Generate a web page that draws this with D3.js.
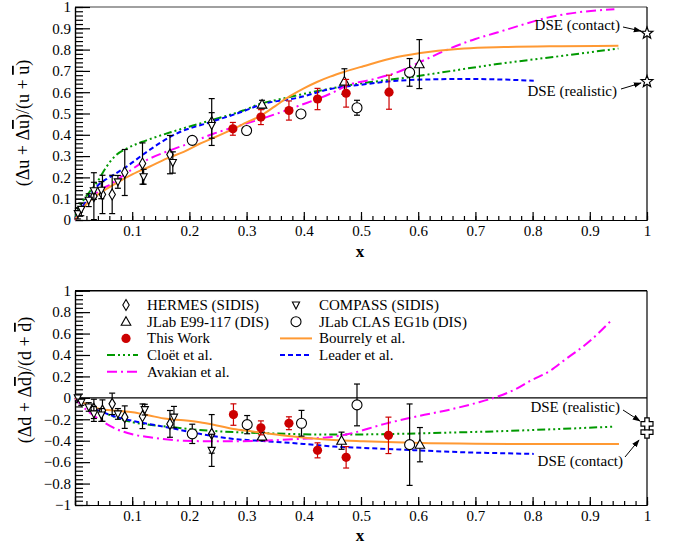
<!DOCTYPE html>
<html>
<head>
<meta charset="utf-8">
<script src="https://cdn.jsdelivr.net/npm/d3@7"></script>
<style>
  body { margin: 0; background: #fff; }
  svg, svg text { font-family: "Liberation Serif", "Times New Roman", serif; }
  .ol { text-decoration: overline; }
</style>
</head>
<body>
<svg id="chart" width="673" height="545"></svg>
<script>
// ---- data: [x, y, err] ----
// upper panel: (Δu + Δū)/(u + ū)
const hermesU = [[0.033,0.112,0.11],[0.048,0.12,0.09],[0.065,0.12,0.09],[0.087,0.223,0.108],
  [0.118,0.265,0.097],[0.166,0.307,0.09],[0.239,0.46,0.11]];
const compassU = [[0.005,0.03,0.025],[0.011,0.05,0.03],[0.024,0.093,0.03],[0.033,0.137,0.04],
  [0.046,0.14,0.04],[0.075,0.179,0.03],[0.12,0.203,0.035],[0.171,0.27,0.05],[0.239,0.444,0.06]];
const e99U = [[0.327,0.542,0.02],[0.471,0.65,0.06],[0.602,0.732,0.115]];
const clasU = [[0.205,0.374,0.0],[0.300,0.42,0.0],[0.395,0.498,0.0],[0.493,0.527,0.035],[0.585,0.693,0.065]];
const thisWorkU = [[0.276,0.428,0.03],[0.325,0.483,0.035],[0.374,0.514,0.045],[0.424,0.568,0.05],
  [0.474,0.595,0.065],[0.549,0.60,0.08]];

// lower panel: (Δd + Δd̄)/(d + d̄)
const hermesD = [[0.033,-0.103,0.09],[0.048,-0.119,0.1],[0.065,-0.056,0.1],[0.087,-0.18,0.105],
  [0.118,-0.172,0.115],[0.166,-0.243,0.125],[0.239,-0.336,0.18]];
const compassD = [[0.005,0.0,0.03],[0.011,-0.04,0.03],[0.024,-0.085,0.04],[0.033,-0.15,0.07],
  [0.046,-0.16,0.06],[0.075,-0.15,0.05],[0.122,-0.11,0.05],[0.173,-0.18,0.1],[0.239,-0.49,0.15]];
const e99D = [[0.327,-0.36,0.04],[0.466,-0.40,0.08],[0.603,-0.437,0.16]];
const clasD = [[0.205,-0.336,0.09],[0.301,-0.25,0.085],[0.396,-0.237,0.12],[0.493,-0.066,0.195],[0.585,-0.437,0.38]];
const thisWorkD = [[0.277,-0.156,0.1],[0.325,-0.28,0.065],[0.374,-0.237,0.06],[0.424,-0.49,0.07],
  [0.474,-0.555,0.1],[0.548,-0.35,0.17]];

// model curves [x, y]
const bourrelyU = [[0,0],[0.01,0.04],[0.02,0.075],[0.043,0.125],[0.07,0.17],[0.101,0.215],[0.13,0.25],
  [0.16,0.288],[0.19,0.32],[0.218,0.358],[0.25,0.395],[0.277,0.428],[0.3,0.458],[0.325,0.49],[0.35,0.535],
  [0.375,0.58],[0.4,0.618],[0.423,0.648],[0.446,0.673],[0.47,0.695],[0.504,0.722],[0.563,0.765],
  [0.621,0.79],[0.68,0.805],[0.75,0.812],[0.85,0.816],[0.95,0.818]];
const cloetU = [[0,0],[0.005,0.05],[0.014,0.09],[0.025,0.13],[0.037,0.171],[0.055,0.25],[0.07,0.3],
  [0.09,0.335],[0.125,0.374],[0.177,0.42],[0.236,0.467],[0.294,0.514],[0.323,0.545],[0.36,0.568],
  [0.393,0.588],[0.475,0.631],[0.592,0.673],[0.738,0.732],[0.85,0.77],[0.95,0.805]];
const leaderU = [[0,0],[0.005,0.03],[0.015,0.07],[0.03,0.13],[0.043,0.17],[0.06,0.2],[0.09,0.25],
  [0.125,0.319],[0.177,0.405],[0.236,0.459],[0.294,0.51],[0.323,0.54],[0.393,0.576],[0.446,0.615],
  [0.5,0.635],[0.563,0.654],[0.62,0.66],[0.68,0.662],[0.74,0.66],[0.802,0.654]];
const avakianU = [[0,0],[0.01,0.04],[0.025,0.09],[0.043,0.14],[0.06,0.164],[0.09,0.22],[0.119,0.272],
  [0.166,0.327],[0.2,0.36],[0.242,0.405],[0.29,0.445],[0.335,0.483],[0.39,0.535],[0.452,0.6],[0.475,0.631],
  [0.52,0.66],[0.563,0.693],[0.61,0.75],[0.651,0.80],[0.70,0.85],[0.738,0.88],[0.78,0.915],[0.826,0.95],
  [0.88,0.975],[0.943,0.99]];

const bourrelyD = [[0,0],[0.02,-0.06],[0.043,-0.103],[0.07,-0.12],[0.101,-0.134],[0.13,-0.165],
  [0.16,-0.196],[0.19,-0.21],[0.218,-0.228],[0.25,-0.26],[0.277,-0.29],[0.305,-0.31],[0.335,-0.33],
  [0.39,-0.365],[0.452,-0.393],[0.504,-0.405],[0.56,-0.415],[0.621,-0.424],[0.7,-0.428],[0.8,-0.43],[0.951,-0.43]];
const cloetD = [[0,0],[0.02,-0.06],[0.043,-0.119],[0.07,-0.18],[0.101,-0.228],[0.13,-0.25],[0.16,-0.268],
  [0.218,-0.3],[0.28,-0.32],[0.335,-0.33],[0.4,-0.34],[0.463,-0.343],[0.563,-0.336],[0.65,-0.325],
  [0.738,-0.312],[0.85,-0.29],[0.943,-0.268]];
const leaderD = [[0,0],[0.02,-0.06],[0.043,-0.12],[0.07,-0.175],[0.101,-0.215],[0.13,-0.245],[0.16,-0.274],
  [0.218,-0.336],[0.277,-0.383],[0.335,-0.405],[0.4,-0.43],[0.452,-0.455],[0.504,-0.467],[0.6,-0.49],
  [0.68,-0.508],[0.74,-0.516],[0.802,-0.523]];
const avakianD = [[0,0],[0.01,-0.06],[0.025,-0.134],[0.045,-0.21],[0.072,-0.29],[0.1,-0.34],[0.131,-0.368],
  [0.189,-0.40],[0.24,-0.405],[0.277,-0.405],[0.33,-0.4],[0.393,-0.383],[0.44,-0.37],[0.48,-0.335],
  [0.54,-0.245],[0.6,-0.17],[0.651,-0.115],[0.7,-0.05],[0.738,0.01],[0.77,0.08],[0.797,0.162],
  [0.83,0.25],[0.855,0.35],[0.9,0.53],[0.937,0.72]];

// DSE values at x = 1: [contact, realistic]
const dseU = [0.877, 0.65];
const dseD = [-0.32, -0.243];

const xTickLabels = ["", "0.1","0.2","0.3","0.4","0.5","0.6","0.7","0.8","0.9","1"];

// ---- styles ----
const FONT = "Liberation Serif";
const red = "#cc0000";
const curveStyles = {
  bourrely: {color: "#ff9933", dash: null},
  cloet:    {color: "#009900", dash: "8,3,2,3,2,3,2,3"},
  leader:   {color: "#0000ff", dash: "5,3"},
  avakian:  {color: "#ff00ff", dash: "10,4,2,4"}
};

const svg = d3.select("#chart").attr("font-family", FONT);
const xLeft = 75, xRight = 647;

// marker shape paths centred at 0,0
function markerPath(kind) {
  switch (kind) {
    case "diamond": return "M0,-5.5L3.2,0L0,5.5L-3.2,0Z";
    case "triUp":   return "M0,-5L4.8,3.6L-4.8,3.6Z";
    case "triDown": return "M0,4L3.6,-3L-3.6,-3Z";
    case "circle":  return d3.arc()({innerRadius: 0, outerRadius: 5, startAngle: 0, endAngle: 2 * Math.PI});
    case "dot":     return d3.arc()({innerRadius: 0, outerRadius: 4.6, startAngle: 0, endAngle: 2 * Math.PI});
    case "star": {
      let pts = [];
      for (let i = 0; i < 10; i++) {
        const r = i % 2 ? 2.6 : 6.2, a = -Math.PI / 2 + i * Math.PI / 5;
        pts.push([r * Math.cos(a), r * Math.sin(a)]);
      }
      return "M" + pts.join("L") + "Z";
    }
    case "cross": {
      const a = 2.2, b = 6;
      return `M${-a},${-b}H${a}V${-a}H${b}V${a}H${a}V${b}H${-a}V${a}H${-b}V${-a}H${-a}Z`;
    }
  }
}

function drawMarkers(g, data, x, y, kind, color) {
  const filled = kind === "dot";
  const errColor = filled ? color : "#000";
  // error bars
  data.filter(d => d[2] > 0).forEach(d => {
    const px = x(d[0]), y1 = y(d[1] + d[2]), y2 = y(d[1] - d[2]);
    g.append("line").attr("x1", px).attr("x2", px).attr("y1", y1).attr("y2", y2)
      .attr("stroke", errColor).attr("stroke-width", 1.2);
    [y1, y2].forEach(yy => g.append("line").attr("x1", px - 3).attr("x2", px + 3)
      .attr("y1", yy).attr("y2", yy).attr("stroke", errColor).attr("stroke-width", 1.2));
  });
  g.selectAll(null).data(data).enter().append("path")
    .attr("d", markerPath(kind))
    .attr("transform", d => `translate(${x(d[0])},${y(d[1])})`)
    .attr("fill", filled ? color : "#fff")
    .attr("stroke", filled ? "none" : "#000")
    .attr("stroke-width", 1.1);
}

function drawCurve(g, data, x, y, style) {
  const line = d3.line().x(d => x(d[0])).y(d => y(d[1])).curve(d3.curveMonotoneX);
  g.append("path").attr("d", line(data)).attr("fill", "none")
    .attr("stroke", style.color).attr("stroke-width", 2)
    .attr("stroke-dasharray", style.dash);
}

function arrow(g, x1, y1, x2, y2) {
  g.append("line").attr("x1", x1).attr("y1", y1).attr("x2", x2).attr("y2", y2)
    .attr("stroke", "#000").attr("stroke-width", 1).attr("marker-end", "url(#head)");
}

svg.append("defs").append("marker").attr("id", "head")
  .attr("viewBox", "0 0 10 10").attr("refX", 9).attr("refY", 5)
  .attr("markerWidth", 8).attr("markerHeight", 8).attr("orient", "auto")
  .append("path").attr("d", "M0,1.5L10,5L0,8.5Z").attr("fill", "#000");

// d3 axes set their own font attributes; replace them with ours
function styleAxis(a) {
  a.attr("font-family", FONT).attr("font-size", 15);
  a.selectAll("line,path").attr("stroke", "#000").attr("stroke-width", 1.2);
  a.selectAll("text").attr("fill", "#000");
}

function drawPanel(p) {
  const x = d3.scaleLinear().domain([0, 1]).range([xLeft, xRight]);
  const y = d3.scaleLinear().domain(p.yDomain).range([p.yBottom, p.yTop]);
  const g = svg.append("g");

  // frame
  g.append("line").attr("x1", xLeft).attr("x2", xRight).attr("y1", p.yTop).attr("y2", p.yTop)
    .attr("stroke", p.topColor).attr("stroke-width", 1.5);
  g.append("line").attr("x1", xRight).attr("x2", xRight).attr("y1", p.yTop).attr("y2", p.yBottom)
    .attr("stroke", "#000").attr("stroke-width", 1.2);
  if (p.zeroLine) {
    g.append("line").attr("x1", xLeft).attr("x2", xRight).attr("y1", y(0)).attr("y2", y(0))
      .attr("stroke", "#000").attr("stroke-width", 1.2);
  }

  // y axis: major + minor ticks pointing inward
  const yMajor = d3.range(p.yDomain[0], p.yDomain[1] + 1e-9, p.yStep);
  const yMinor = d3.range(p.yDomain[0], p.yDomain[1] + 1e-9, p.yStep / 5);
  g.append("g").attr("transform", `translate(${xLeft},0)`)
    .call(d3.axisLeft(y).tickValues(yMinor).tickSize(-8).tickSizeOuter(0).tickFormat(""))
    .call(styleAxis);
  g.append("g").attr("transform", `translate(${xLeft},0)`)
    .call(d3.axisLeft(y).tickValues(yMajor).tickSize(-15).tickSizeOuter(0).tickPadding(4)
      .tickFormat(d => d3.format("~g")(+d.toFixed(2))))
    .call(styleAxis);

  // x axis
  g.append("g").attr("transform", `translate(0,${p.yBottom})`)
    .call(d3.axisBottom(x).tickValues(d3.range(0, 1.0001, 0.02)).tickSize(-4).tickSizeOuter(0).tickFormat(""))
    .call(styleAxis);
  g.append("g").attr("transform", `translate(0,${p.yBottom})`)
    .call(d3.axisBottom(x).tickValues(d3.range(0, 1.0001, 0.1)).tickSize(-8).tickSizeOuter(0)
      .tickPadding(p.xPad).tickFormat((d, i) => xTickLabels[i]))
    .call(styleAxis);

  g.append("text").attr("x", 360).attr("y", p.xTitleY).attr("text-anchor", "middle")
    .attr("font-size", 17).attr("font-weight", "bold").text("x");

  // y title with overlines
  const t = g.append("text").attr("transform", `translate(${p.yTitleX},${p.yTitleY}) rotate(-90)`)
    .attr("text-anchor", "middle").attr("font-size", 18);
  p.yTitle.forEach(part => t.append("tspan").attr("class", part[1] ? "ol" : null).text(part[0]));

  // curves
  const cg = g.append("g");
  p.curves.forEach(c => drawCurve(cg, c[0], x, y, c[1]));

  // data
  const dg = g.append("g");
  drawMarkers(dg, p.hermes, x, y, "diamond");
  drawMarkers(dg, p.compass, x, y, "triDown");
  drawMarkers(dg, p.e99, x, y, "triUp");
  drawMarkers(dg, p.clas, x, y, "circle");
  drawMarkers(dg, p.thisWork, x, y, "dot", red);

  // DSE points at x = 1
  p.dse.forEach(v => dg.append("path").attr("d", markerPath(p.dseMarker))
    .attr("transform", `translate(${x(1)},${y(v)})`)
    .attr("fill", "#fff").attr("stroke", "#000").attr("stroke-width", 1.2));

  return {g, x, y};
}

// upper panel
const upperPanel = drawPanel({
  yDomain: [0, 1], yStep: 0.1, yTop: 7, yBottom: 220, topColor: "#808080",
  xPad: 5, xTitleY: 257, yTitleX: 29, yTitleY: 123,
  yTitle: [["(Δu + Δ", false], ["u", true], [")/(u + ", false], ["u", true], [")", false]],
  curves: [[cloetU, curveStyles.cloet], [leaderU, curveStyles.leader],
           [avakianU, curveStyles.avakian], [bourrelyU, curveStyles.bourrely]],
  hermes: hermesU, compass: compassU, e99: e99U, clas: clasU, thisWork: thisWorkU,
  dse: dseU, dseMarker: "star"
});

// lower panel
const lowerPanel = drawPanel({
  yDomain: [-1, 1], yStep: 0.2, yTop: 290.7, yBottom: 505, topColor: "#000", zeroLine: true,
  xPad: 5, xTitleY: 541, yTitleX: 31, yTitleY: 380,
  yTitle: [["(Δd + Δ", false], ["d", true], [")/(d + ", false], ["d", true], [")", false]],
  curves: [[cloetD, curveStyles.cloet], [leaderD, curveStyles.leader],
           [avakianD, curveStyles.avakian], [bourrelyD, curveStyles.bourrely]],
  hermes: hermesD, compass: compassD, e99: e99D, clas: clasD, thisWork: thisWorkD,
  dse: dseD, dseMarker: "cross"
});

// DSE annotations
const ann = svg.append("g").attr("font-size", 15).attr("text-anchor", "end");
ann.append("text").attr("x", 620).attr("y", 30).text("DSE (contact)");
arrow(ann, 623, 27, 641, 31);
ann.append("text").attr("x", 617).attr("y", 96).text("DSE (realistic)");
arrow(ann, 621, 89, 641, 83);
ann.append("text").attr("x", 620).attr("y", 412).text("DSE (realistic)");
arrow(ann, 623, 410, 640, 421);
ann.append("text").attr("x", 623).attr("y", 466).text("DSE (contact)");
arrow(ann, 625, 457, 639, 440);

// legend
const legendLeft = [
  {label: "HERMES (SIDIS)", kind: "diamond"},
  {label: "JLab E99-117 (DIS)", kind: "triUp"},
  {label: "This Work", kind: "dot"},
  {label: "Cloët et al.", style: curveStyles.cloet},
  {label: "Avakian et al.", style: curveStyles.avakian}
];
const legendRight = [
  {label: "COMPASS (SIDIS)", kind: "triDown"},
  {label: "JLab CLAS EG1b (DIS)", kind: "circle"},
  {label: "Bourrely et al.", style: curveStyles.bourrely},
  {label: "Leader et al.", style: curveStyles.leader}
];
function drawLegend(items, mx, l1, l2, tx) {
  const lg = svg.append("g").attr("font-size", 15);
  items.forEach((it, i) => {
    const cy = 305 + i * 16.7;
    if (it.kind) {
      lg.append("path").attr("d", markerPath(it.kind)).attr("transform", `translate(${mx},${cy})`)
        .attr("fill", it.kind === "dot" ? red : "#fff")
        .attr("stroke", it.kind === "dot" ? "none" : "#000").attr("stroke-width", 1.1);
    } else {
      lg.append("line").attr("x1", l1).attr("x2", l2).attr("y1", cy).attr("y2", cy)
        .attr("stroke", it.style.color).attr("stroke-width", 2).attr("stroke-dasharray", it.style.dash);
    }
    lg.append("text").attr("x", tx).attr("y", cy + 5).text(it.label);
  });
}
drawLegend(legendLeft, 126, 107, 138, 147);
drawLegend(legendRight, 296, 280, 312, 319);
</script>
</body>
</html>
